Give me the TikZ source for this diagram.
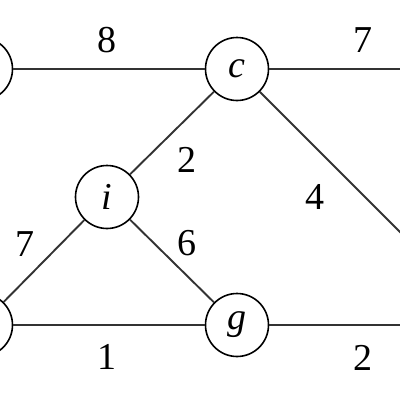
\documentclass[tikz,border=0pt]{standalone}
\usepackage{fontspec}
\setmainfont{Liberation Serif}
\begin{document}
\begin{tikzpicture}[x=1pt,y=-1pt,
  vert/.style={circle,draw,line width=1.6pt,minimum size=63pt,inner sep=0pt,font=\fontsize{38}{40}\selectfont\itshape},
  edge/.style={line width=1.9pt,draw=black!80},
  wt/.style={font=\fontsize{38}{40}\selectfont,inner sep=0pt}]
\useasboundingbox (0,0) rectangle (400,400);
\clip (0,0) rectangle (400,400);
\node[vert] (b) at (-19,69) {};
\node[vert] (c) at (237,69) {c};
\node[vert] (d) at (493,69) {};
\node[vert] (i) at (107,197) {i};
\node[vert] (h) at (-19,325) {};
\node[vert] (g) at (237,325) {g};
\node[vert] (f) at (493,325) {};
\draw[edge] (b) -- (c);
\draw[edge] (c) -- (d);
\draw[edge] (c) -- (i);
\draw[edge] (c) -- (f);
\draw[edge] (i) -- (h);
\draw[edge] (i) -- (g);
\draw[edge] (h) -- (g);
\draw[edge] (g) -- (f);
\node[wt] (w1) at (107,40) {8};
\node[wt] (w2) at (363,40) {7};
\node[wt] (w3) at (187,160) {2};
\node[wt] (w4) at (315,197) {4};
\node[wt] (w5) at (25,244) {7};
\node[wt] (w6) at (187,243) {6};
\node[wt] (w7) at (107,357) {1};
\node[wt] (w8) at (363,358) {2};
\end{tikzpicture}
\end{document}
